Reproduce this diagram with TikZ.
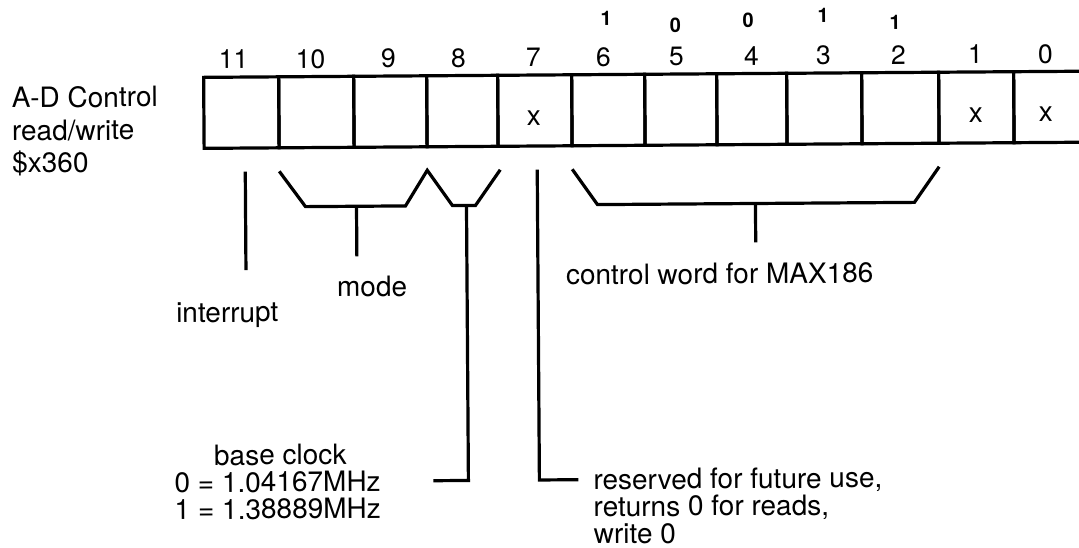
\documentclass[tikz,border=0pt]{standalone}
\usepackage{fontspec}
\setmainfont{TeX Gyre Heros}
\begin{document}
\begin{tikzpicture}[x=1pt,y=-1pt,
  every node/.style={inner sep=0pt, outer sep=0pt},
  txt/.style={font=\fontsize{28}{33}\selectfont},
  bitnum/.style={font=\fontsize{26.5}{30}\selectfont, anchor=base},
  hand/.style={font=\fontsize{20}{22}\selectfont\bfseries},
  cell/.style={draw, line width=3.2pt, minimum height=71pt},
  brk/.style={line width=3.2pt, line join=miter},
  ]
\useasboundingbox (0,0) rectangle (1079,547);
\clip (0,0) rectangle (1079,547);
\begin{scope}[rotate around={0.4:(540,274)}, transform shape]
% register cells
\node[cell, minimum width=75pt] (b11) at (242.5,110.5) {};
\node[cell, minimum width=75pt] (b10) at (317.5,110.5) {};
\node[cell, minimum width=73pt] (b9)  at (391.5,110.5) {};
\node[cell, minimum width=71pt] (b8)  at (463.5,110.5) {};
\node[cell, minimum width=74pt] (b7)  at (536,110.5) {};
\node[cell, minimum width=73pt] (b6)  at (609.5,110.5) {};
\node[cell, minimum width=72pt] (b5)  at (682,110.5) {};
\node[cell, minimum width=70pt] (b4)  at (753,110.5) {};
\node[cell, minimum width=75pt] (b3)  at (825.5,110.5) {};
\node[cell, minimum width=77pt] (b2)  at (901.5,110.5) {};
\node[cell, minimum width=75pt] (b1)  at (977.5,110.5) {};
\node[cell, minimum width=70pt] (b0)  at (1050,110.5) {};
% x marks
\node[txt] (x7) at (535,118) {x};
\node[txt] (x1) at (977,118) {x};
\node[txt] (x0) at (1047,118) {x};
% bit numbers
\node[bitnum] (n11) at (235,66.5) {11};
\node[bitnum] (n10) at (312,66.5) {10};
\node[bitnum] (n9)  at (390,66.5) {9};
\node[bitnum] (n8)  at (460,66.5) {8};
\node[bitnum] (n7)  at (535,66.5) {7};
\node[bitnum] (n6)  at (605,66.5) {6};
\node[bitnum] (n5)  at (678,66.5) {5};
\node[bitnum] (n4)  at (753,66.5) {4};
\node[bitnum] (n3)  at (825,66.5) {3};
\node[bitnum] (n2)  at (900,66.5) {2};
\node[bitnum] (n1)  at (977,66.5) {1};
\node[bitnum] (n0)  at (1047,66.5) {0};
% handwritten values
\node[hand] (h6) at (608,18.5) {1};
\node[hand] (h5) at (677,26) {0};
\node[hand] (h4) at (750,21.5) {0};
\node[hand] (h3) at (825,17) {1};
\node[hand] (h2) at (897,24.5) {1};
% left label
\node[txt, anchor=base west] (t1) at (13,104) {A-D Control};
\node[txt, anchor=base west] (t2) at (13,137) {read/write};
\node[txt, anchor=base west] (t3) at (13,169) {\$x360};
% interrupt
\coordinate (i1) at (246,169.5);
\coordinate (i2) at (246,268);
\draw[brk] (i1) -- (i2);
\node[txt, anchor=base] (lint) at (227,320) {interrupt};
% mode bracket
\coordinate (m1) at (280,169.5);
\coordinate (m2) at (306,205);
\coordinate (m3) at (406,205);
\coordinate (m4) at (428,169.5);
\coordinate (m5) at (453,205);
\coordinate (m6) at (476,205);
\coordinate (m7) at (501,169.5);
\draw[brk] (m1) -- (m2) -- (m3) -- (m4) -- (m5) -- (m6) -- (m7);
\coordinate (ms1) at (357,205);
\coordinate (ms2) at (357,255);
\draw[brk] (ms1) -- (ms2);
\node[txt, anchor=base] (lmode) at (372,295) {mode};
% base clock
\coordinate (c1) at (467,205);
\coordinate (c2) at (467,480);
\coordinate (c3) at (432,480);
\draw[brk] (c1) -- (c2) -- (c3);
\node[txt, anchor=base] (lbc) at (279,463) {base clock};
\node[txt, anchor=base west] (lbc0) at (173,490) {0 = 1.04167MHz};
\node[txt, anchor=base west] (lbc1) at (173,517) {1 = 1.38889MHz};
% reserved
\coordinate (r1) at (538,169.5);
\coordinate (r2) at (538,480);
\coordinate (r3) at (577,480);
\draw[brk] (r1) -- (r2) -- (r3);
\node[txt, anchor=base west] (lr1) at (592,490) {reserved for future use,};
\node[txt, anchor=base west] (lr2) at (592,517) {returns 0 for reads,};
\node[txt, anchor=base west] (lr3) at (592,544) {write 0};
% control word bracket
\coordinate (w1) at (573,169.5);
\coordinate (w2) at (598,205);
\coordinate (w3) at (915,205);
\coordinate (w4) at (940,169.5);
\draw[brk] (w1) -- (w2) -- (w3) -- (w4);
\coordinate (ws1) at (756,205);
\coordinate (ws2) at (756,244);
\draw[brk] (ws1) -- (ws2);
\node[txt, anchor=base west] (lcw) at (566,285) {control word for MAX186};
\end{scope}
\end{tikzpicture}
\end{document}
